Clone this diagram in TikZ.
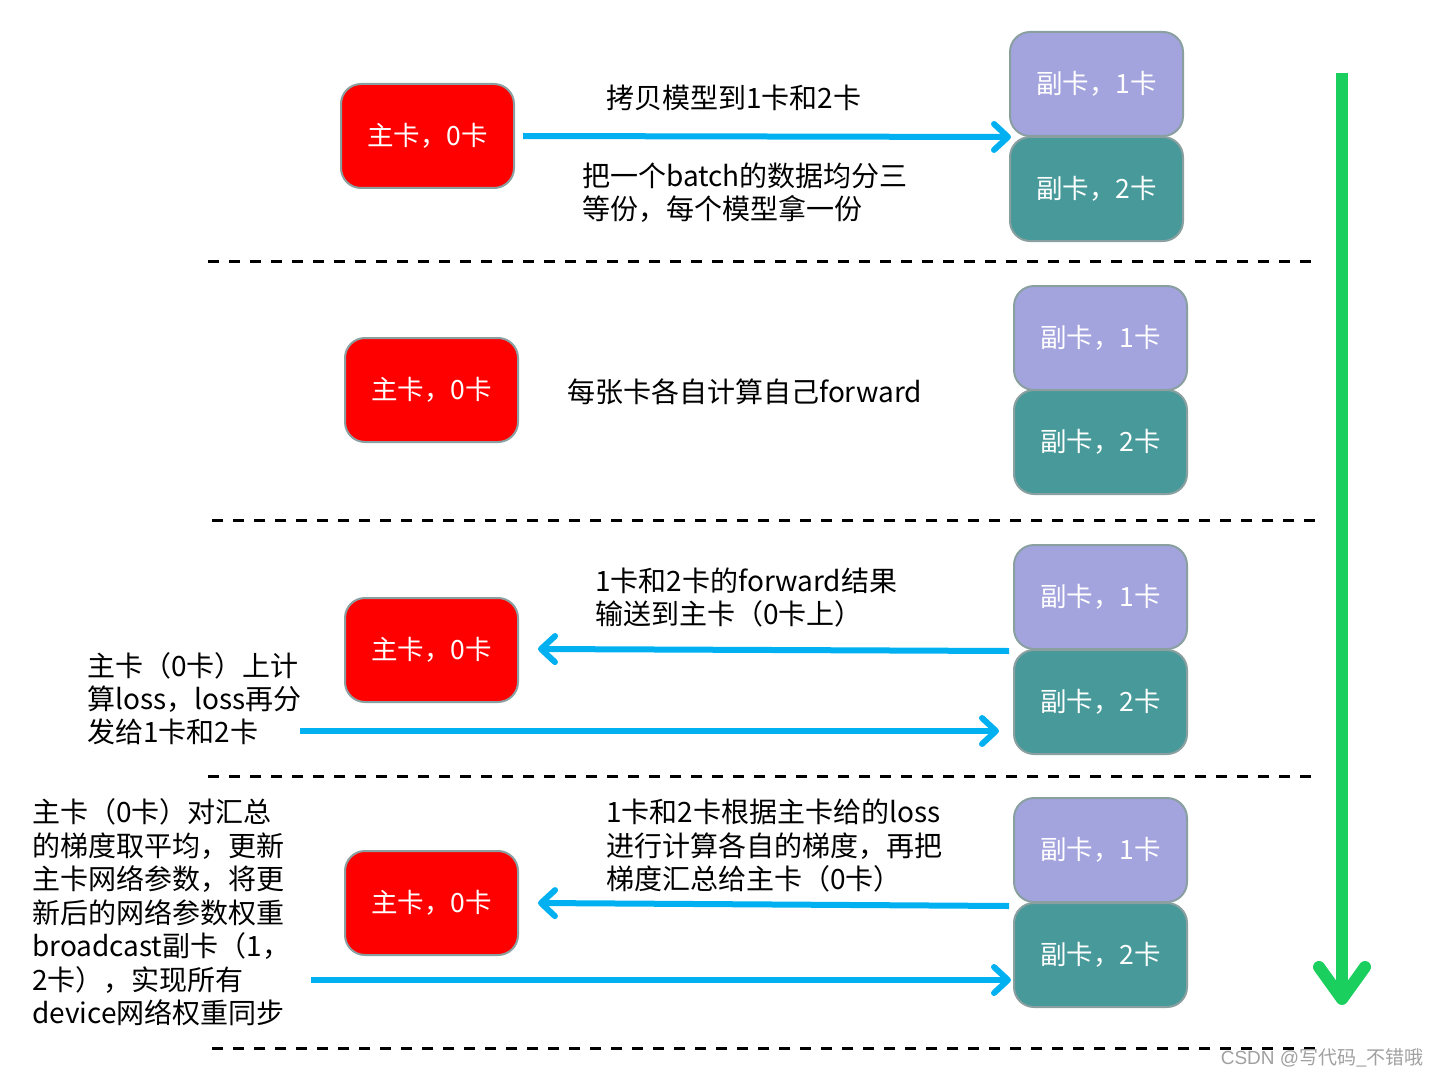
\documentclass[tikz,border=0pt]{standalone}
\usepackage{fontspec}
\setmainfont{Noto Sans CJK SC}
\newfontfamily\wmfont{Liberation Sans}
\usetikzlibrary{arrows.meta,calc}
\definecolor{mainred}{RGB}{255,0,0}
\definecolor{subpurple}{RGB}{163,163,222}
\definecolor{subteal}{RGB}{71,153,154}
\definecolor{boxborder}{RGB}{138,160,160}
\definecolor{arrowblue}{RGB}{0,176,240}
\definecolor{timegreen}{RGB}{26,207,94}
\definecolor{wmgrey}{RGB}{160,160,160}
\tikzset{
  cardbox/.style={rounded corners=20pt, draw=boxborder, line width=2pt,
    minimum width=173pt, minimum height=104pt, inner sep=0pt,
    text=white, font=\fontsize{26.5pt}{30pt}\selectfont},
  mainbox/.style={cardbox, fill=mainred},
  subone/.style={cardbox, fill=subpurple},
  subtwo/.style={cardbox, fill=subteal},
  sep/.style={line width=3pt, dash pattern=on 11pt off 10pt},
  flow/.style={line width=6pt, draw=arrowblue,
    -{Straight Barb[length=14pt,width=26pt,line width=6pt,round]}},
  timeline/.style={line width=12pt, draw=timegreen, line cap=butt,
    -{Straight Barb[length=32pt,width=46pt,line width=12pt,round]}},
  note/.style={align=left, anchor=north west, inner sep=0pt, text=black,
    font=\fontsize{28pt}{33.5pt}\selectfont},
}
\begin{document}
\begin{tikzpicture}[x=1pt,y=-1pt]
\useasboundingbox (0,0) rectangle (1439,1078);

% row 1
\node[mainbox] (m1) at (427.5,136) {主卡，0卡};
\node[subone] (s1a) at (1096.5,84) {副卡，1卡};
\node[subtwo] (s1b) at (1096.5,189) {副卡，2卡};
% row 2
\node[mainbox] (m2) at (431.5,390) {主卡，0卡};
\node[subone] (s2a) at (1100.5,338) {副卡，1卡};
\node[subtwo] (s2b) at (1100.5,442) {副卡，2卡};
% row 3
\node[mainbox] (m3) at (431.5,650) {主卡，0卡};
\node[subone] (s3a) at (1100.5,597) {副卡，1卡};
\node[subtwo] (s3b) at (1100.5,702) {副卡，2卡};
% row 4
\node[mainbox] (m4) at (431.5,903) {主卡，0卡};
\node[subone] (s4a) at (1100.5,850) {副卡，1卡};
\node[subtwo] (s4b) at (1100.5,955) {副卡，2卡};

% texts
\node[note, anchor=west] (t1) at (606,98) {拷贝模型到1卡和2卡};
\node[note, anchor=west] (t1b) at (582,176) {把一个batch的数据均分三};
\node[note, anchor=west] (t1c) at (582,209) {等份，每个模型拿一份};
\node[note, anchor=west] (t2) at (567,392) {每张卡各自计算自己forward};
\node[note, anchor=west] (t3a) at (595,581) {1卡和2卡的forward结果};
\node[note, anchor=west] (t3b) at (595,614) {输送到主卡（0卡上）};
\node[note, anchor=west] (l3a) at (87,666) {主卡（0卡）上计};
\node[note, anchor=west] (l3b) at (87,699) {算loss，loss再分};
\node[note, anchor=west] (l3c) at (87,732) {发给1卡和2卡};
\node[note, anchor=west] (t4a) at (606,812) {1卡和2卡根据主卡给的loss};
\node[note, anchor=west] (t4b) at (606,846) {进行计算各自的梯度，再把};
\node[note, anchor=west] (t4c) at (606,879) {梯度汇总给主卡（0卡）};
\node[note, anchor=west] (l4a) at (32,812) {主卡（0卡）对汇总};
\node[note, anchor=west] (l4b) at (32,846) {的梯度取平均，更新};
\node[note, anchor=west] (l4c) at (32,879) {主卡网络参数，将更};
\node[note, anchor=west] (l4d) at (32,913) {新后的网络参数权重};
\node[note, anchor=west] (l4e) at (32,946) {broadcast副卡（1，};
\node[note, anchor=west] (l4f) at (32,980) {2卡），实现所有};
\node[note, anchor=west] (l4g) at (32,1013) {device网络权重同步};

% separators
\coordinate (d1a) at (208,261); \coordinate (d1b) at (1313,261);
\coordinate (d2a) at (212,520); \coordinate (d2b) at (1316,520);
\coordinate (d3a) at (208,776); \coordinate (d3b) at (1313,776);
\coordinate (d4a) at (212,1048); \coordinate (d4b) at (1316,1048);
\draw[sep] (d1a) -- (d1b);
\draw[sep] (d2a) -- (d2b);
\draw[sep] (d3a) -- (d3b);
\draw[sep] (d4a) -- (d4b);

% blue flows
\draw[flow] ($(m1.east)+(8,0)$) -- ($(s1a.south west)+(2,0)$);
\draw[flow] ($(s3a.south west)+(-4,1)$) -- ($(m3.east)+(19,-1)$);
\coordinate (f3s) at (300,731);
\draw[flow] (f3s) -- ($(s3b.west|-f3s)+(-14,0)$);
\draw[flow] ($(s4a.south west)+(-4,3)$) -- ($(m4.east)+(19,0)$);
\coordinate (f4s) at (311,980);
\draw[flow] (f4s) -- ($(s4b.west|-f4s)+(-2,0)$);

% time line
\coordinate (g1) at (1342,73);
\coordinate (g2) at (1342,1005);
\draw[timeline] (g1) -- (g2);

% watermark
\node[anchor=east, inner sep=0pt, text=wmgrey, font=\fontsize{19pt}{22pt}\selectfont] (wm) at (1424,1058) {{\wmfont CSDN @}写代码\_不错哦};
\end{tikzpicture}
\end{document}
